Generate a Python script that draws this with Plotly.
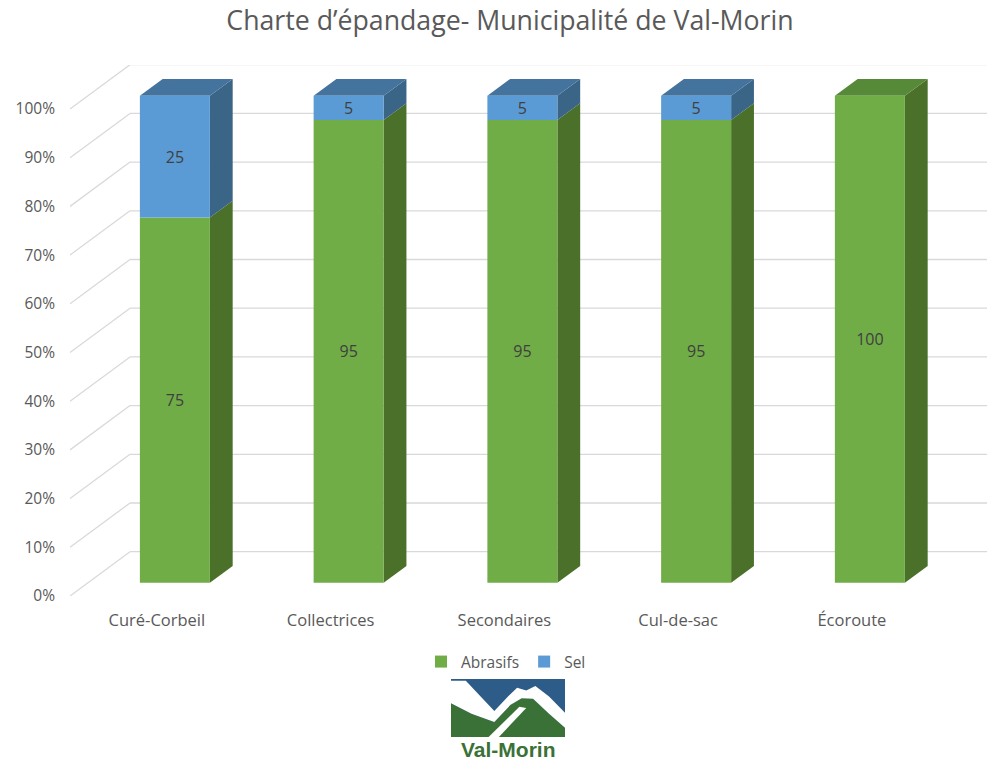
import plotly.graph_objects as go

# ---------------- data ----------------
categories = ["Curé-Corbeil", "Collectrices", "Secondaires", "Cul-de-sac", "Écoroute"]
abrasifs = [75, 95, 95, 95, 100]
sel = [25, 5, 5, 5, 0]
series_names = ["Abrasifs", "Sel"]
y_ticks = [0, 10, 20, 30, 40, 50, 60, 70, 80, 90, 100]
y_tick_labels = [f"{v}%" for v in y_ticks]
title_text = "Charte d’épandage- Municipalité de Val-Morin"

# ---------------- layout geometry ----------------
W, H = 987, 762
ML, MR, MT, MB = 70, 0, 65, 166
PW, PH = W - ML - MR, H - MT - MB
PX_PER_CAT = 173.75           # px per category step
PX_PER_PCT = 4.87             # px per percent
x_range = [-0.5, -0.5 + PW / PX_PER_CAT]
y_range = [0, PH / PX_PER_PCT]
DX = 60 / PX_PER_CAT          # depth vector (front wall -> back wall)
DY = 44.3 / PX_PER_PCT
F0, F1 = 0.30, 0.68           # bar front / back depth fractions
BW = 70 / PX_PER_CAT          # bar width

GREEN = "#70AD47"; GREEN_SIDE = "#4A7029"; GREEN_TOP = "#578A38"
BLUE = "#5B9BD5"; BLUE_SIDE = "#3B6587"; BLUE_TOP = "#44739D"
GRID = "#D9D9D9"; TXT = "#595959"

fronts = [GREEN, BLUE]
sides = [GREEN_SIDE, BLUE_SIDE]
tops = [GREEN_TOP, BLUE_TOP]
series_vals = [abrasifs, sel]

fig = go.Figure()
shapes = []

def path(pts):
    return "M " + " L ".join(f"{x:.5f},{y:.5f}" for x, y in pts) + " Z"

# ---------------- walls / grid ----------------
for v in y_ticks:
    shapes.append(dict(type="line", xref="x", yref="y", layer="below",
                       x0=x_range[0] + DX, y0=v + DY, x1=x_range[1], y1=v + DY,
                       line=dict(color=GRID, width=1.3)))
    shapes.append(dict(type="line", xref="x", yref="y", layer="below",
                       x0=x_range[0], y0=v, x1=x_range[0] + DX, y1=v + DY,
                       line=dict(color=GRID, width=1.3)))

# ---------------- bars (front faces via traces) ----------------
xs = [i + F0 * DX for i in range(len(categories))]
base0 = F0 * DY
cum = [0] * len(categories)
for s, name in enumerate(series_names):
    vals = series_vals[s]
    bases = [base0 + c for c in cum]
    fig.add_trace(go.Bar(
        x=xs, y=vals, base=bases, width=BW, name=name,
        marker=dict(color=fronts[s], line=dict(width=0)),
        text=[str(v) if v > 0 else "" for v in vals],
        textposition="inside", insidetextanchor="middle", textangle=0,
        textfont=dict(color="#404040", size=16, family="Open Sans"),
        constraintext="none", cliponaxis=False, showlegend=True,
        hoverinfo="skip",
    ))
    # side & top faces
    for i, v in enumerate(vals):
        if v <= 0:
            continue
        b = bases[i]
        t = b + v
        xr = xs[i] + BW / 2
        xl = xs[i] - BW / 2
        bdx = (F1 - F0) * DX
        bdy = (F1 - F0) * DY
        shapes.append(dict(type="path", xref="x", yref="y", layer="below",
                           path=path([(xr, b), (xr + bdx, b + bdy), (xr + bdx, t + bdy), (xr, t)]),
                           fillcolor=sides[s], line=dict(width=0)))
        is_top = all(series_vals[k][i] == 0 for k in range(s + 1, len(series_vals)))
        if is_top:
            shapes.append(dict(type="path", xref="x", yref="y", layer="below",
                               path=path([(xl, t), (xr, t), (xr + bdx, t + bdy), (xl + bdx, t + bdy)]),
                               fillcolor=tops[s], line=dict(width=0)))
    cum = [c + v for c, v in zip(cum, vals)]

# ---------------- logo (paper coords) ----------------
def px2paper(px, py):
    return (px - ML) / PW, (H - MB - py) / PH

LX0, LY0, LW, LH = 451, 679, 114, 58

def lp(u, v):
    return px2paper(LX0 + LW * u, LY0 + LH * v)

def ppath(pts):
    return "M " + " L ".join("{:.5f},{:.5f}".format(*lp(u, v)) for u, v in pts) + " Z"

x0p, y0p = lp(0, 0)
x1p, y1p = lp(1, 1)
shapes.append(dict(type="rect", xref="paper", yref="paper", x0=x0p, y0=y1p, x1=x1p, y1=y0p,
                   fillcolor="#2D5C89", line=dict(width=0)))
shapes.append(dict(type="path", xref="paper", yref="paper",
                   path=ppath([(0, 0.42), (0.18, 0.6), (0.38, 0.74), (0.52, 0.45), (0.62, 0.33),
                               (0.72, 0.34), (0.86, 0.6), (1, 0.84), (1, 1), (0, 1)]),
                   fillcolor="#3A7137", line=dict(width=0)))
shapes.append(dict(type="path", xref="paper", yref="paper",
                   path=ppath([(0, 0.03), (0.13, 0.03), (0.26, 0.3), (0.38, 0.55), (0.5, 0.3),
                               (0.58, 0.15), (0.66, 0.2), (0.74, 0.12), (0.86, 0.3), (1, 0.58),
                               (1, 0.84), (0.86, 0.6), (0.72, 0.34), (0.62, 0.33), (0.52, 0.45),
                               (0.38, 0.74), (0.18, 0.6), (0, 0.42)]),
                   fillcolor="white", line=dict(width=0)))
shapes.append(dict(type="path", xref="paper", yref="paper",
                   path=ppath([(0.33, 1.0), (0.42, 1.0), (0.66, 0.5), (0.6, 0.48)]),
                   fillcolor="white", line=dict(width=0)))

lx, ly = px2paper(508, 749)
annotations = [dict(x=lx, y=ly, xref="paper", yref="paper", text="<b>Val-Morin</b>",
                    showarrow=False, xanchor="center", yanchor="middle",
                    font=dict(family="Liberation Sans", size=21, color="#3A7137"))]

legx, legy = px2paper(506, 662)

fig.update_layout(
    width=W, height=H,
    margin=dict(l=ML, r=MR, t=MT, b=MB, pad=0),
    paper_bgcolor="white", plot_bgcolor="white",
    barmode="overlay",
    font=dict(family="Open Sans", color=TXT, size=15),
    title=dict(text=title_text, x=510 / W, xref="container", xanchor="center",
               y=1 - 21 / H, yref="container", yanchor="middle",
               font=dict(size=26.7, color=TXT, family="Open Sans")),
    xaxis=dict(range=x_range, tickvals=list(range(len(categories))), ticktext=categories,
               showgrid=False, zeroline=False, showline=False, ticks="",
               ticklabelstandoff=12, tickfont=dict(size=16.5, color=TXT), fixedrange=True),
    yaxis=dict(range=y_range, tickvals=y_ticks, ticktext=y_tick_labels,
               showgrid=False, zeroline=False, showline=False, ticks="",
               ticklabelstandoff=14, tickfont=dict(size=15.5, color=TXT), fixedrange=True),
    legend=dict(orientation="h", x=legx, xanchor="center", y=legy, yanchor="middle",
                font=dict(size=15.5, color=TXT), traceorder="normal", itemwidth=30),
    shapes=shapes,
    annotations=annotations,
)

fig.write_html("out.html", config={"displayModeBar": False},
               post_script="document.body.style.margin='0';")
